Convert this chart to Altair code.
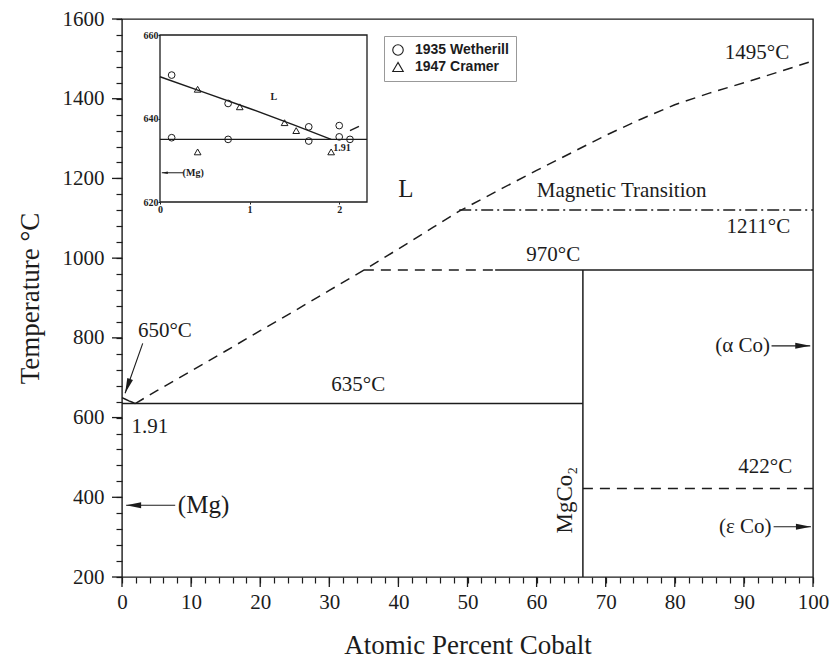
import math
import altair as alt
import pandas as pd

# ---------------- main diagram data ----------------
# liquidus (dashed) from the eutectic at 1.91 at.% Co up to the Co melting point
liq_x = [1.91, 5, 10, 15, 20, 25, 30, 35, 40, 45, 48.8, 55, 60, 65, 70, 75, 80, 85, 90, 95, 100]
liq_t = [635, 667, 717, 767, 818, 868, 919, 970, 1023, 1077, 1118, 1175, 1220, 1264, 1308, 1348, 1385, 1414, 1440, 1467, 1495]

# short solid liquidus on the Mg side
mgliq_x = [0, 0.5, 1.0, 1.5, 1.91]
mgliq_t = [650, 646, 642, 638.5, 635]

# solid invariant / phase lines
solid_x1 = [0, 54, 66.7]
solid_x2 = [66.7, 100, 66.7]
solid_t1 = [635, 970, 200]
solid_t2 = [635, 970, 970]

# dashed lines
dashed_x1 = [35, 66.7]
dashed_x2 = [54, 100]
dashed_t = [970, 422]

# magnetic transition (dash-dot)
magn_x1 = [48.8]
magn_x2 = [100]
magn_t = [1121]

# annotation arrows (tail -> tip)
arrow_x1 = [7.7, 94.0, 94.3, 3.0]
arrow_t1 = [380, 780, 326, 786]
arrow_x2 = [0.6, 99.6, 99.7, 0.45]
arrow_t2 = [380, 780, 326, 661]

# labels
lab_std = ["1495°C", "Magnetic Transition", "1211°C", "970°C", "635°C", "650°C",
           "1.91", "(α Co)", "(ε Co)", "422°C"]
lab_std_x = [91.9, 72.3, 92.1, 62.4, 34.2, 6.2, 4.05, 89.8, 90.2, 93.1]
lab_std_t = [1515, 1169, 1079, 1008, 682, 818, 577, 780, 326, 475]

lab_big = ["L", "(Mg)"]
lab_big_x = [41.1, 11.8]
lab_big_t = [1173, 380]

lab_rot = ["MgCo₂"]
lab_rot_x = [64.1]
lab_rot_t = [393]

x_ticks_major = list(range(0, 101, 10))
x_ticks_minor = list(range(0, 101, 2))
y_ticks_major = list(range(200, 1601, 200))
y_ticks_minor = list(range(200, 1601, 40))

# ---------------- inset data ----------------
ins_curve_x = [0, 0.5, 1.0, 1.5, 1.91]
ins_curve_t = [650, 646.2, 642.4, 638.4, 635]
ins_eut_x = [0, 2.31]
ins_eut_t = [635, 635]
ins_dash_x = [2.12, 2.22]
ins_dash_t = [637.1, 638.1]

series = ["1935 Wetherill", "1947 Cramer"]
w_x = [0.13, 0.76, 1.66, 2.0, 0.13, 0.76, 1.66, 2.0, 2.12]
w_t = [650.4, 643.6, 638.0, 638.3, 635.4, 635.0, 634.6, 635.6, 635.0]
c_x = [0.42, 0.89, 1.39, 1.52, 0.42, 1.91]
c_t = [647.0, 642.8, 639.0, 637.1, 632.0, 632.0]

ins_lab = ["L", "1.91", "(Mg)"]
ins_lab_x = [1.27, 2.03, 0.37]
ins_lab_t = [645.1, 633.0, 627.0]
ins_arrow_x1 = [0.26]
ins_arrow_x2 = [0.02]
ins_arrow_t = [627]

ins_xdom = [0, 2.31]
ins_tdom = [620, 660]
ins_xticks = [0, 1, 2]
ins_tticks = [620, 640, 660]

# ---------------- layout ----------------
W, H = 691, 558
PAD = {"left": 122, "top": 19, "right": 830 - 122 - W, "bottom": 660 - 19 - H}
INK = "#1c1c1c"
SERIF = "Liberation Serif"
SANS = "Liberation Sans"
ARROW = "M0,0L-0.4,2L0.4,2Z"
MAJ, MIN = 10, 6

xs = alt.Scale(domain=[0, 100], nice=False, zero=False)
ys = alt.Scale(domain=[200, 1600], nice=False, zero=False)

# main axes carry every (minor) tick and the labels of the major ones
x_axis = alt.Axis(orient="bottom", values=x_ticks_minor, tickSize=MIN, tickWidth=1.2, tickColor=INK,
                  domain=False, grid=False, labelFont=SERIF, labelFontSize=21, labelColor=INK,
                  labelExpr="datum.value % 10 === 0 ? datum.label : ''", format="d",
                  labelPadding=MAJ - MIN + 4, labelFlush=False, labelOverlap=False,
                  title="Atomic Percent Cobalt", titleFont=SERIF, titleFontSize=27,
                  titleFontWeight="normal", titleColor=INK, titleX=W / 2, titleY=68,
                  titleBaseline="middle", titleAlign="center")
y_axis = alt.Axis(orient="left", values=y_ticks_minor, tickSize=MIN, tickWidth=1.2, tickColor=INK,
                  domain=False, grid=False, labelFont=SERIF, labelFontSize=21, labelColor=INK,
                  labelExpr="datum.value % 200 === 0 ? datum.label : ''", format="d",
                  labelPadding=MAJ - MIN + 8, labelFlush=False, labelOverlap=False,
                  title="Temperature °C", titleFont=SERIF, titleFontSize=27,
                  titleFontWeight="normal", titleColor=INK, titleX=-92, titleY=H / 2,
                  titleBaseline="middle", titleAlign="center")


def X(f="x"):
    return alt.X(f"{f}:Q", scale=xs, axis=x_axis)


def Y(f="t"):
    return alt.Y(f"{f}:Q", scale=ys, axis=y_axis)


LW = 1.5

liquidus = alt.Chart(pd.DataFrame({"x": liq_x, "t": liq_t})).mark_line(
    color=INK, strokeWidth=LW, strokeDash=[10, 7]).encode(x=X(), y=Y())
mgliq = alt.Chart(pd.DataFrame({"x": mgliq_x, "t": mgliq_t})).mark_line(
    color=INK, strokeWidth=LW).encode(x=X(), y=Y())

solid = alt.Chart(pd.DataFrame({"x": solid_x1, "x2": solid_x2, "t": solid_t1, "t2": solid_t2})).mark_rule(
    color=INK, strokeWidth=LW).encode(x=X(), x2="x2:Q", y=Y(), y2="t2:Q")
dashed = alt.Chart(pd.DataFrame({"x": dashed_x1, "x2": dashed_x2, "t": dashed_t})).mark_rule(
    color=INK, strokeWidth=LW, strokeDash=[10, 7]).encode(x=X(), x2="x2:Q", y=Y())
magn = alt.Chart(pd.DataFrame({"x": magn_x1, "x2": magn_x2, "t": magn_t})).mark_rule(
    color=INK, strokeWidth=LW, strokeDash=[12, 4, 2, 4]).encode(x=X(), x2="x2:Q", y=Y())

# longer major ticks, placed through the main scales
maj_x = alt.Chart(pd.DataFrame({"x": x_ticks_major})).mark_rule(color=INK, strokeWidth=1.3).encode(
    x=X(), y=alt.value(H), y2=alt.value(H + MAJ))
maj_y = alt.Chart(pd.DataFrame({"t": y_ticks_major})).mark_rule(color=INK, strokeWidth=1.3).encode(
    y=Y(), x=alt.value(0), x2=alt.value(-MAJ))

# arrowhead angle from direction in pixel space
px_x, px_t = W / 100.0, H / 1400.0
angles = []
for a, b, c, d in zip(arrow_x1, arrow_t1, arrow_x2, arrow_t2):
    dx = (c - a) * px_x
    dy = -(d - b) * px_t
    angles.append(math.degrees(math.atan2(dx, -dy)) % 360)
arr_df = pd.DataFrame({"x": arrow_x1, "t": arrow_t1, "x2": arrow_x2, "t2": arrow_t2, "ang": angles})
arr_lines = alt.Chart(arr_df).mark_rule(color=INK, strokeWidth=1.1).encode(
    x=X(), x2="x2:Q", y=Y(), y2="t2:Q")
arr_heads = alt.Chart(arr_df).mark_point(shape=ARROW, filled=True, color=INK, size=225, opacity=1).encode(
    x=alt.X("x2:Q", scale=xs, axis=x_axis), y=alt.Y("t2:Q", scale=ys, axis=y_axis),
    angle=alt.Angle("ang:Q", scale=None))

txt_std = alt.Chart(pd.DataFrame({"x": lab_std_x, "t": lab_std_t, "s": lab_std})).mark_text(
    font=SERIF, fontSize=21, color=INK, align="center", baseline="middle").encode(x=X(), y=Y(), text="s:N")
txt_big = alt.Chart(pd.DataFrame({"x": lab_big_x, "t": lab_big_t, "s": lab_big})).mark_text(
    font=SERIF, fontSize=25, color=INK, align="center", baseline="middle").encode(x=X(), y=Y(), text="s:N")
txt_rot = alt.Chart(pd.DataFrame({"x": lab_rot_x, "t": lab_rot_t, "s": lab_rot})).mark_text(
    font=SERIF, fontSize=23, color=INK, align="center", baseline="middle", angle=270).encode(
    x=X(), y=Y(), text="s:N")

main = alt.layer(liquidus, mgliq, solid, dashed, magn, maj_x, maj_y, arr_lines, arr_heads,
                 txt_std, txt_big, txt_rot)

# ---------------- inset ----------------
IX0, IX1, IY0, IY1 = 38, 245, 183, 16
ixs = alt.Scale(domain=ins_xdom, range=[IX0, IX1], nice=False, zero=False)
iys = alt.Scale(domain=ins_tdom, range=[IY0, IY1], nice=False, zero=False)
ix_axis = alt.Axis(orient="bottom", offset=IY0 - H, values=ins_xticks, tickSize=2, tickColor=INK,
                   domain=False, grid=False, labelFont=SERIF, labelFontSize=10, labelFontWeight="bold",
                   labelColor=INK, labelPadding=0, labelFlush=False, title=None)
iy_axis = alt.Axis(orient="left", offset=-IX0, values=ins_tticks, tickSize=2, tickColor=INK,
                   domain=False, grid=False, labelFont=SERIF, labelFontSize=10, labelFontWeight="bold",
                   labelColor=INK, labelPadding=0, labelFlush=False, title=None)


def IX(f="x"):
    return alt.X(f"{f}:Q", scale=ixs, axis=ix_axis)


def IY(f="t"):
    return alt.Y(f"{f}:Q", scale=iys, axis=iy_axis)


frame = alt.Chart(pd.DataFrame({"x": [ins_xdom[0]], "x2": [ins_xdom[1]],
                                "t": [ins_tdom[0]], "t2": [ins_tdom[1]]})).mark_rect(
    fill="white", stroke=INK, strokeWidth=1.3).encode(x=IX(), x2="x2:Q", y=IY(), y2="t2:Q")
ins_curve = alt.Chart(pd.DataFrame({"x": ins_curve_x, "t": ins_curve_t})).mark_line(
    color=INK, strokeWidth=1.4).encode(x=IX(), y=IY())
ins_eut = alt.Chart(pd.DataFrame({"x": ins_eut_x, "t": ins_eut_t})).mark_line(
    color=INK, strokeWidth=1.4).encode(x=IX(), y=IY())
ins_dash = alt.Chart(pd.DataFrame({"x": ins_dash_x, "t": ins_dash_t})).mark_line(
    color=INK, strokeWidth=1.4).encode(x=IX(), y=IY())

pts = pd.DataFrame({
    "x": w_x + c_x,
    "t": w_t + c_t,
    "series": [series[0]] * len(w_x) + [series[1]] * len(c_x),
})
ins_pts = alt.Chart(pts).mark_point(filled=False, color=INK, size=45, strokeWidth=1, opacity=1).encode(
    x=IX(), y=IY(),
    shape=alt.Shape("series:N", scale=alt.Scale(domain=series, range=["circle", "triangle-up"]),
                    legend=alt.Legend(title=None, orient="none", legendX=262, legendY=17, padding=7,
                                      strokeColor="#999", fillColor="white", labelFont=SANS,
                                      labelFontSize=14, labelFontWeight="bold", labelColor=INK,
                                      symbolSize=110, symbolStrokeWidth=1.1, labelOffset=10,
                                      rowPadding=2)))

ins_txt = alt.Chart(pd.DataFrame({"x": ins_lab_x, "t": ins_lab_t, "s": ins_lab})).mark_text(
    font=SERIF, fontSize=10, fontWeight="bold", color=INK, align="center", baseline="middle").encode(
    x=IX(), y=IY(), text="s:N")
ins_arr_df = pd.DataFrame({"x": ins_arrow_x1, "x2": ins_arrow_x2, "t": ins_arrow_t})
ins_arr_line = alt.Chart(ins_arr_df).mark_rule(color=INK, strokeWidth=1).encode(x=IX(), x2="x2:Q", y=IY())
ins_arr_head = alt.Chart(ins_arr_df).mark_point(shape=ARROW, filled=True, color=INK, size=36,
                                                angle=270, opacity=1).encode(
    x=alt.X("x2:Q", scale=ixs, axis=ix_axis), y=IY())

inset = alt.layer(frame, ins_eut, ins_curve, ins_dash, ins_pts, ins_txt, ins_arr_line, ins_arr_head)

chart = alt.layer(main, inset).resolve_scale(
    x="independent", y="independent"
).properties(
    width=W, height=H, padding=PAD, autosize=alt.AutoSizeParams(type="none"), background="white"
).configure_view(stroke=INK, strokeWidth=1.4)

chart.save("out.html", embed_options={"renderer": "svg", "actions": False})
